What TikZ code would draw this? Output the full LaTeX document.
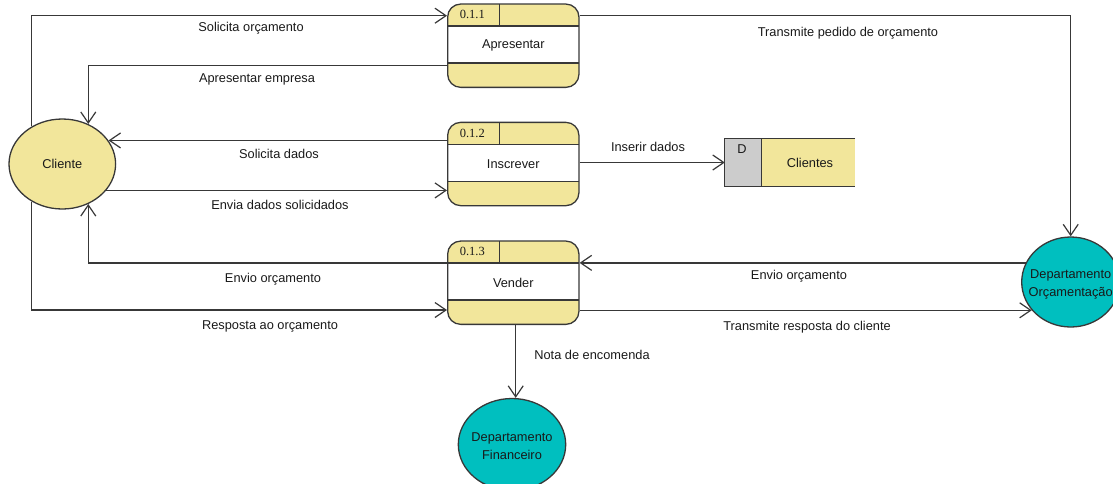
\documentclass[tikz,border=0pt]{standalone}
\usepackage{fontspec}
\setmainfont{Liberation Sans}
\newfontfamily\idfont{Liberation Serif}
\usetikzlibrary{arrows.meta,shapes.geometric}

\definecolor{procyellow}{HTML}{F2E69B}
\definecolor{deptteal}{HTML}{00BFBF}
\definecolor{storegray}{HTML}{CCCCCC}
\definecolor{inkline}{HTML}{383838}

\begin{document}
\begin{tikzpicture}[x=1pt,y=-1pt,
  every node/.style={font=\fontsize{12.8}{18}\selectfont, text=black!90},
  flow/.style={draw=inkline, line width=1.3pt,
    -{Straight Barb[length=11pt,width=15pt,line width=1.2pt]}},
  outline/.style={draw=inkline, line width=1.3pt},
  proc/.style={rectangle, outline, fill=procyellow, rounded corners=13pt,
    minimum width=131.3pt, minimum height=83.3pt, inner sep=0pt,
    path picture={
      \fill[white, sharp corners] ([yshift=-22pt]path picture bounding box.north west)
        rectangle ([yshift=24.3pt]path picture bounding box.south east);
      \draw[outline, sharp corners] ([yshift=-22pt]path picture bounding box.north west)
        -- ([yshift=-22pt]path picture bounding box.north east);
      \draw[outline, sharp corners] ([yshift=24.3pt]path picture bounding box.south west)
        -- ([yshift=24.3pt]path picture bounding box.south east);
      \draw[outline, sharp corners] ([xshift=51.6pt]path picture bounding box.north west)
        -- ([xshift=51.6pt,yshift=-22pt]path picture bounding box.north west);
    }},
  idtext/.style={font=\idfont\fontsize{12.5}{14}\selectfont, inner sep=0pt},
  entity/.style={ellipse, outline, inner sep=0pt},
  flowlabel/.style={inner sep=0pt}
]
\useasboundingbox (0,0) rectangle (1113,483);

% external entities
\node[entity, fill=procyellow, minimum width=106.6pt, minimum height=90pt] (cli) at (62.3,164) {};
\node (cli-text) at (cli.center) {Cliente};
\node[entity, fill=deptteal, minimum width=98pt, minimum height=90pt] (dor) at (1070.7,282) {};
\node[align=center] (dor-text) at ([yshift=-2pt]dor.center) {Departamento\\Orçamentação};
\node[entity, fill=deptteal, minimum width=107.4pt, minimum height=92pt] (dfin) at (512,444.5) {};
\node[align=center] (dfin-text) at ([yshift=-1.5pt]dfin.center) {Departamento\\Financeiro};

% processes
\node[proc] (p1) at (513.3,45.7) {Apresentar};
\node[proc] (p2) at (513.3,164) {Inscrever};
\node[proc] (p3) at (513.3,282.7) {Vender};
\node[idtext] (p1-id) at ([xshift=25.3pt,yshift=-11.5pt]p1.north west) {0.1.1};
\node[idtext] (p2-id) at ([xshift=25.3pt,yshift=-11.5pt]p2.north west) {0.1.2};
\node[idtext] (p3-id) at ([xshift=25.3pt,yshift=-11.5pt]p3.north west) {0.1.3};

% data store
\node[rectangle, fill=procyellow, minimum width=130pt, minimum height=47pt, inner sep=0pt] (ds) at (790,162.5) {};
\fill[storegray] (ds.north west) rectangle ([xshift=36.7pt]ds.south west);
\draw[outline] (ds.north east) -- (ds.north west) -- (ds.south west) -- (ds.south east);
\draw[outline] ([xshift=36.7pt]ds.north west) -- ([xshift=36.7pt]ds.south west);
\node (ds-id) at ([xshift=17.3pt,yshift=-10pt]ds.north west) {D};
\node (ds-text) at ([xshift=20pt]ds.center) {Clientes};

% data flows
\draw[flow] (cli.129) |- ([yshift=30pt]p1.west);
\draw[flow] ([yshift=30pt]p1.east) -| (dor);
\draw[flow] ([yshift=-20pt]p1.west) -| (cli.57.8);
\draw[flow] (cli.27.75 -| p2.west) -- (cli.27.75);
\draw[flow] (cli.-31) -- (cli.-31 -| p2.west);
\draw[flow] (p2.east |- ds.west) -- (ds.west);
\draw[flow] ([yshift=19.65pt]p3.west) -| (cli.-57.8);
\draw[flow] (cli.231) |- ([yshift=-27.3pt]p3.west);
\draw[flow] (dor.157.25) -- (dor.157.25 -| p3.east);
\draw[flow] (dor.216.6 -| p3.east) -- (dor.216.6);
\draw[flow] ([xshift=2.4pt]p3.south) -- ([xshift=2.4pt]p3.south |- dfin.north);

% flow labels
\node[flowlabel] (l1) at (251,28.3) {Solicita orçamento};
\node[flowlabel] (l2) at (257,79) {Apresentar empresa};
\node[flowlabel] (l3) at (848,33.3) {Transmite pedido de orçamento};
\node[flowlabel] (l4) at (279,154) {Solicita dados};
\node[flowlabel] (l5) at (648,146.7) {Inserir dados};
\node[flowlabel] (l6) at (280,205) {Envia dados solicidados};
\node[flowlabel] (l7) at (273,279.3) {Envio orçamento};
\node[flowlabel] (l8) at (270,326.7) {Resposta ao orçamento};
\node[flowlabel] (l9) at (592,354.7) {Nota de encomenda};
\node[flowlabel] (l10) at (799,276) {Envio orçamento};
\node[flowlabel] (l11) at (807,326.7) {Transmite resposta do cliente};
\end{tikzpicture}
\end{document}
